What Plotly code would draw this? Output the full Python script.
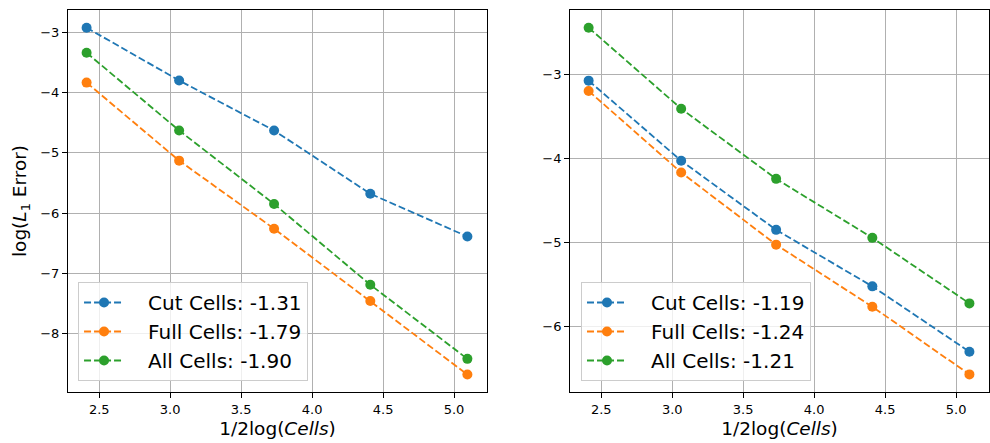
import plotly.graph_objects as go

# Data
x_vals = [2.411, 3.063, 3.732, 4.41, 5.094]

left_cut = [-2.924, -3.80, -4.63, -5.68, -6.39]
left_full = [-3.835, -5.13, -6.26, -7.46, -8.68]
left_all = [-3.34, -4.63, -5.85, -7.19, -8.42]

right_cut = [-3.076, -4.03, -4.854, -5.527, -6.306]
right_full = [-3.199, -4.17, -5.03, -5.77, -6.576]
right_all = [-2.445, -3.41, -4.246, -4.949, -5.73]

left_labels = ["Cut Cells: -1.31", "Full Cells: -1.79", "All Cells: -1.90"]
right_labels = ["Cut Cells: -1.19", "Full Cells: -1.24", "All Cells: -1.21"]

colors = ["#1f77b4", "#ff7f0e", "#2ca02c"]
FONT = "DejaVu Sans"
PAD = "\u00a0\u00a0\u00a0"

fig = go.Figure()

for ys, lab, c in zip([left_cut, left_full, left_all], left_labels, colors):
    fig.add_trace(go.Scatter(
        x=x_vals, y=ys, name=PAD + lab, mode="lines+markers",
        line=dict(color=c, width=1.8, dash="7px,3px"),
        marker=dict(color=c, size=10, symbol="circle"),
        xaxis="x", yaxis="y", legend="legend"))

for ys, lab, c in zip([right_cut, right_full, right_all], right_labels, colors):
    fig.add_trace(go.Scatter(
        x=x_vals, y=ys, name=PAD + lab, mode="lines+markers",
        line=dict(color=c, width=1.8, dash="7px,3px"),
        marker=dict(color=c, size=10, symbol="circle"),
        xaxis="x2", yaxis="y2", legend="legend2"))

axis_common = dict(
    showline=True, mirror=True, linecolor="black", linewidth=1,
    showgrid=True, gridcolor="#b0b0b0", gridwidth=1,
    ticks="outside", ticklen=5, tickwidth=1, tickcolor="black",
    tickfont=dict(family=FONT, size=13, color="black"),
    zeroline=False,
)

xtitle = dict(text="1/2log(<i>Cells</i>)", font=dict(family=FONT, size=18.5, color="black"), standoff=6)

legend_common = dict(
    bgcolor="rgba(255,255,255,0.8)", bordercolor="#cccccc", borderwidth=1,
    font=dict(family=FONT, size=20, color="black"),
    xanchor="left", yanchor="bottom", yref="paper", xref="paper",
    itemwidth=40, tracegroupgap=0,
)

fig.update_layout(
    width=990, height=443,
    margin=dict(l=68, r=1, t=10, b=51),
    paper_bgcolor="white", plot_bgcolor="white",
    font=dict(family=FONT, color="black"),
    xaxis=dict(domain=[0, 0.4549], range=[2.28, 5.232], dtick=0.5, tick0=2.5,
               tickformat=".1f", title=xtitle, anchor="y", **axis_common),
    yaxis=dict(domain=[0, 1], range=[-8.97, -2.63], dtick=1, tick0=-3,
               title=dict(text="log(<i>L</i><sub>1</sub> Error)",
                          font=dict(family=FONT, size=18.5, color="black"), standoff=8),
               anchor="x", **axis_common),
    xaxis2=dict(domain=[0.5451, 1], range=[2.28, 5.232], dtick=0.5, tick0=2.5,
                tickformat=".1f", title=xtitle, anchor="y2", **axis_common),
    yaxis2=dict(domain=[0, 1], range=[-6.786, -2.234], dtick=1, tick0=-3,
                anchor="x2", **axis_common),
    legend=dict(x=0.0109, y=0.0288, **legend_common),
    legend2=dict(x=0.557, y=0.0288, **legend_common),
    showlegend=True,
)

fig.write_html("out.html")
